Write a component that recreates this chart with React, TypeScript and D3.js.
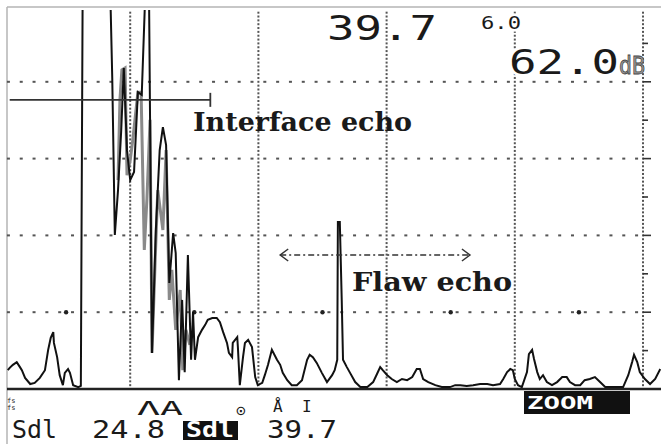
import React from "react";
import * as d3 from "d3";

// A-scan trace: time in screen units (one grid division = 20), amplitude in % screen height
const timeDiv = [
  0.9, 1.2, 1.7, 2.3, 2.8, 3.1, 3.6, 4.4, 5.1, 5.9, 6.7, 7.2, 7.6, 8.0, 8.1, 8.6, 9.0, 9.5, 9.8, 10.3,
  10.6, 11.1, 11.9, 12.3, 12.6, 16.8, 17.2, 17.6, 18.1, 18.6, 19.0, 19.5, 20.0, 20.6, 21.2, 21.8, 22.5, 22.9, 23.4, 24.0,
  24.6, 25.1, 25.6, 26.1, 26.7, 27.1, 27.6, 28.1, 28.5, 29.0, 29.5, 29.8, 30.1, 30.6, 31.2, 31.7, 32.1, 32.8, 33.5, 34.0,
  34.5, 35.1, 35.4, 35.9, 36.0, 36.7, 36.8, 37.1, 37.6, 37.9, 38.4, 39.0, 39.5, 39.9, 40.6, 41.0, 41.5, 42.1, 42.9, 43.4,
  43.8, 44.5, 45.2, 46.0, 46.8, 47.6, 48.0, 48.5, 49.1, 49.9, 50.7, 51.5, 51.9, 52.3, 52.4, 52.7, 53.0, 53.2, 53.8, 54.3,
  55.1, 55.9, 57.0, 57.9, 58.5, 59.0, 59.4, 60.1, 60.8, 61.6, 62.4, 63.2, 64.0, 64.7, 65.2, 65.7, 66.5, 67.6, 68.6, 69.9,
  70.7, 71.5, 72.5, 73.5, 74.6, 75.7, 76.6, 77.7, 78.2, 78.8, 79.3, 79.7, 80.0, 80.5, 81.1, 81.9, 82.2, 82.7, 83.0, 83.5,
  83.9, 84.4, 85.0, 85.8, 86.6, 87.4, 88.1, 88.6, 89.4, 90.2, 90.9, 91.7, 92.5, 93.3, 94.1, 95.3, 96.9, 97.7, 98.3, 98.6,
  99.1, 99.5, 100.3, 101.1, 101.9, 102.7,
];
const amplitude = [
  4.9, 5.5, 6.3, 7.0, 5.7, 4.9, 2.9, 1.3, 1.6, 2.9, 4.9, 10.2, 13.3, 14.8, 12.0, 8.3, 3.6, 1.0, 4.2, 5.2,
  4.2, 1.0, 0.5, 0.8, 110, 110, 81.0, 40.1, 51.8, 67.4, 83.6, 62.2, 54.4, 56.5, 77.3, 76.6, 110, 110, 9.4, 41.4,
  62.2, 68.2, 63.5, 27.6, 40.6, 35.4, 2.3, 23.2, 4.4, 34.9, 7.6, 20.1, 7.6, 13.5, 15.4, 16.7, 18.0, 18.5, 18.5, 17.4,
  14.8, 12.0, 9.4, 8.3, 12.0, 13.5, 10.9, 1.0, 8.3, 12.0, 12.8, 10.9, 3.1, 1.0, 1.6, 3.6, 6.3, 10.2, 7.6, 6.3,
  4.2, 2.3, 1.0, 1.0, 2.3, 7.6, 8.9, 8.3, 6.8, 4.2, 1.8, 3.6, 4.9, 7.6, 43.5, 43.5, 23.2, 7.6, 5.7, 4.2,
  1.8, 0.5, 0.5, 1.8, 3.9, 5.7, 4.9, 3.6, 2.6, 1.8, 2.6, 2.3, 3.1, 5.2, 5.2, 2.6, 1.8, 1.0, 0.5, 0.5,
  1.0, 1.0, 0.8, 1.0, 1.3, 1.3, 1.0, 1.3, 2.6, 4.4, 5.2, 4.9, 2.6, 1.0, 0.5, 4.4, 9.1, 10.2, 7.8, 4.4,
  2.6, 3.6, 1.8, 1.0, 1.8, 3.1, 3.1, 1.8, 1.0, 1.0, 2.3, 2.6, 3.1, 1.8, 0.5, 0.5, 0.5, 3.6, 7.0, 8.9,
  7.0, 4.4, 2.6, 1.3, 2.6, 5.2,
];

// grey peak-memory trace in the interface clutter
const memTime = [
  18.1, 18.4, 18.7, 19.2, 19.5, 20.0, 20.4, 21.2, 21.7, 22.2, 22.6, 23.1, 23.4, 23.9, 24.3, 25.1,
  25.6, 26.1, 26.5, 27.1, 27.8, 28.2, 28.7, 29.3,
];
const memAmp = [
  54.4, 75.3, 83.1, 83.6, 55.7, 59.6, 64.8, 77.3, 77.3, 36.2, 49.2, 70.1, 9.4, 33.6, 51.8, 41.4,
  62.2, 23.2, 31.0, 15.4, 25.8, 4.9, 15.4, 11.5,
];

const gridTimes = [20, 40, 60, 80, 100];
const gridAmps = [20, 40, 60, 80];
const rightTicks = [10, 20, 30, 40, 50, 60, 70, 80, 90];

// interface gate and flaw marker (time, amplitude)
const gateStart = 1.2;
const gateEnd = 32.5;
const gateLevel = 75.3;
const flawFrom = 43.4;
const flawTo = 73.0;
const flawLevel = 34.9;

const soundPath = "39.7";
const rangeSmall = "6.0";
const gain = "62.0";

const W = 661;
const H = 444;

export default function App() {
  const x = d3.scaleLinear().domain([0, 100]).range([2, 643]);
  const y = d3.scaleLinear().domain([0, 100]).range([389, 5]);

  const trace = d3
    .line<number>()
    .x((_, i) => x(timeDiv[i]))
    .y((d) => y(d))(amplitude);
  const memTrace = d3
    .line<number>()
    .x((_, i) => x(memTime[i]))
    .y((d) => y(d))(memAmp);

  const hDots = d3.range(1, 100, 2);
  const vDots = d3.range(1, 100, 1);
  const bigDots = [10, 30, 50, 70, 90];

  const mono = "DejaVu Sans Mono, monospace";
  const serif = "DejaVu Serif, serif";
  const ink = "#1a1a1a";
  const yGate = y(gateLevel);
  const yFlaw = y(flawLevel);

  return (
    <svg width={W} height={H} style={{ position: "absolute", left: 0, top: 0, background: "#fff" }}>
      <defs>
        <clipPath id="plot">
          <rect x={7} y={10} width={W - 7} height={389 - 10} />
        </clipPath>
      </defs>

      {/* frame */}
      <line x1={7} y1={7} x2={W} y2={7} stroke="#b5b5b5" strokeWidth={1.5} />
      <line x1={7} y1={7} x2={7} y2={H} stroke="#b5b5b5" strokeWidth={1.5} />

      {/* grid */}
      {gridAmps.map((a) =>
        hDots.map((t) => (
          <rect key={`h${a}-${t}`} x={x(t) - 1.5} y={y(a) - 1} width={3} height={2} fill="#555" />
        ))
      )}
      {bigDots.map((t) => (
        <circle key={`b${t}`} cx={x(t)} cy={y(20)} r={2.2} fill="#222" />
      ))}
      {gridTimes.map((t) =>
        vDots
          .filter((a) => y(a) > 10)
          .map((a) => (
            <rect key={`v${t}-${a}`} x={x(t) - 1} y={y(a) - 1} width={2} height={2} fill="#555" />
          ))
      )}
      {rightTicks.map((a) => (
        <line
          key={`r${a}`}
          x1={x(100)}
          x2={x(100) + (a % 20 === 0 ? 8 : 5)}
          y1={y(a)}
          y2={y(a)}
          stroke="#333"
          strokeWidth={1.6}
        />
      ))}

      {/* top readouts */}
      <g fontFamily={mono} fill={ink} stroke="#fff" strokeWidth={5} style={{ paintOrder: "stroke" }}>
        <text x={327} y={40} fontSize={34} textLength={110} lengthAdjust="spacingAndGlyphs">
          {soundPath}
        </text>
        <text x={481} y={29} fontSize={17} textLength={40} lengthAdjust="spacingAndGlyphs">
          {rangeSmall}
        </text>
        <text x={509} y={74} fontSize={33} textLength={110} lengthAdjust="spacingAndGlyphs">
          {gain}
        </text>
      </g>
      <text
        x={619}
        y={74}
        fontFamily={mono}
        fontSize={25}
        fill="#999"
        stroke="#444"
        strokeWidth={0.8}
        textLength={26}
        lengthAdjust="spacingAndGlyphs"
      >
        dB
      </text>

      {/* traces */}
      <path d={memTrace ?? ""} fill="none" stroke="#8a8a8a" strokeWidth={3} clipPath="url(#plot)" />
      <path
        d={trace ?? ""}
        fill="none"
        stroke="#111"
        strokeWidth={2}
        strokeLinejoin="miter"
        clipPath="url(#plot)"
      />

      {/* baseline */}
      <line x1={7} x2={W} y1={y(0)} y2={y(0)} stroke="#222" strokeWidth={2.5} />

      {/* interface gate */}
      <line x1={x(gateStart)} x2={x(gateEnd)} y1={yGate} y2={yGate} stroke="#333" strokeWidth={1.8} />
      <line x1={x(gateEnd)} x2={x(gateEnd)} y1={yGate - 7} y2={yGate + 7} stroke="#333" strokeWidth={1.8} />
      <text
        x={193}
        y={131}
        fontFamily={serif}
        fontWeight="bold"
        fontSize={26}
        fill={ink}
        textLength={219}
        lengthAdjust="spacingAndGlyphs"
      >
        Interface echo
      </text>

      {/* flaw marker */}
      <line
        x1={x(flawFrom)}
        x2={x(flawTo)}
        y1={yFlaw}
        y2={yFlaw}
        stroke="#333"
        strokeWidth={1.4}
        strokeDasharray="6 3 2 3"
      />
      <path
        d={`M${x(flawFrom) + 8},${yFlaw - 6}L${x(flawFrom)},${yFlaw}L${x(flawFrom) + 8},${yFlaw + 6}`}
        fill="none"
        stroke="#333"
        strokeWidth={1.5}
      />
      <path
        d={`M${x(flawTo) - 8},${yFlaw - 6}L${x(flawTo)},${yFlaw}L${x(flawTo) - 8},${yFlaw + 6}`}
        fill="none"
        stroke="#333"
        strokeWidth={1.5}
      />
      <text
        x={352}
        y={291}
        fontFamily={serif}
        fontWeight="bold"
        fontSize={26}
        fill={ink}
        textLength={160}
        lengthAdjust="spacingAndGlyphs"
      >
        Flaw echo
      </text>

      {/* status line */}
      <g fontFamily={mono} fill={ink}>
        <text x={7} y={403} fontSize={7}>fs</text>
        <text x={7} y={410} fontSize={7}>fs</text>
        <text x={137} y={415} fontSize={20} textLength={46} lengthAdjust="spacingAndGlyphs">
          ΛA
        </text>
        <text x={236} y={416} fontSize={16}>⊙</text>
        <text x={273} y={412} fontSize={16}>Å</text>
        <text x={302} y={412} fontSize={16}>I</text>

        <text x={12} y={438} fontSize={24} textLength={45} lengthAdjust="spacingAndGlyphs">
          Sdl
        </text>
        <text x={92} y={438} fontSize={24} textLength={73} lengthAdjust="spacingAndGlyphs">
          24.8
        </text>
        <rect x={183} y={421} width={55} height={19} fill="#111" />
        <text
          x={186}
          y={437}
          fontSize={21}
          fontWeight="bold"
          fill="#fff"
          textLength={48}
          lengthAdjust="spacingAndGlyphs"
        >
          Sdl
        </text>
        <text x={267} y={438} fontSize={24} textLength={70} lengthAdjust="spacingAndGlyphs">
          {soundPath}
        </text>

        <rect x={524} y={391} width={106} height={23} fill="#111" />
        <text
          x={527}
          y={409}
          fontSize={18}
          fontWeight="bold"
          fill="#fff"
          textLength={66}
          lengthAdjust="spacingAndGlyphs"
        >
          ZOOM
        </text>
      </g>
    </svg>
  );
}
